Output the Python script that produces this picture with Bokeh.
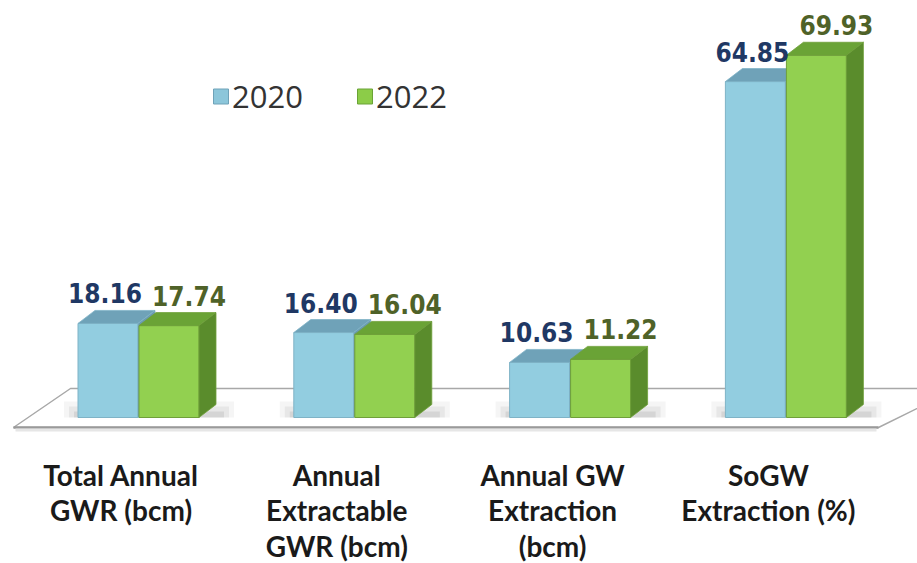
from bokeh.plotting import figure
from bokeh.models import Range1d
from bokeh.core.properties import value
from bokeh.embed import file_html
from bokeh.resources import INLINE

# ---- data ----
categories = ["Total Annual\nGWR (bcm)", "Annual\nExtractable\nGWR (bcm)",
              "Annual GW\nExtraction\n(bcm)", "SoGW\nExtraction (%)"]
series_names = ["2020", "2022"]
values_2020 = [18.16, 16.40, 10.63, 64.85]
values_2022 = [17.74, 16.04, 11.22, 69.93]
labels_2020 = ["18.16", "16.40", "10.63", "64.85"]
labels_2022 = ["17.74", "16.04", "11.22", "69.93"]

# ---- layout constants (pixels) ----
W, H = 917, 563
K = 5.18            # pixels per data unit
BASE_PX = 146       # distance of y=0 from bottom of canvas
DX = 17             # depth offset x (px == x data units)
DY = 13 / K         # depth offset y in data units
BAR_W = 60
C0, STEP = 137.5, 215.8

def py(pix_from_top):
    return (H - pix_from_top - BASE_PX) / K

y_start = -BASE_PX / K
y_end = (H - BASE_PX) / K

p = figure(width=W, height=H, x_range=Range1d(0, W), y_range=Range1d(y_start, y_end),
           output_backend="svg", toolbar_location=None, min_border=0)
p.axis.visible = False
p.grid.visible = False
p.outline_line_color = None
p.background_fill_color = "white"
p.border_fill_color = "white"

centers = [C0 + STEP * i for i in range(len(categories))]

# ---- floor ----
fl_front, fl_back = py(427), py(388)
p.patch([13, 878, 917 + 40, 70], [fl_front, fl_front, fl_back, fl_back],
        fill_color="white", line_color="#a8a8a8", line_width=1.5)
p.line([13, 878], [fl_front, fl_front], line_color="#9a9a9a", line_width=2.5)
p.line([15, 876], [fl_front - 2.5 / K, fl_front - 2.5 / K], line_color="#e6e6e6", line_width=3)

# ---- soft shadows on the floor ----
for c in centers:
    x0, x1 = c - BAR_W, c + 1 + BAR_W + DX
    for grow, a in [(14, 0.05), (9, 0.07), (4, 0.10)]:
        p.patch([x0 - grow, x1 + grow + 4, x1 + grow + 4, x0 - grow],
                [0, 0, (grow + 2) / K, (grow + 2) / K],
                fill_color="#3a3a3a", fill_alpha=a, line_color=None)

# ---- bars (3D) ----
def draw_bar(x0, x1, h, front, top, side, edge):
    p.quad(left=[x0], right=[x1], bottom=[0], top=[h], fill_color=front,
           line_color=edge, line_width=1)
    p.patch([x0, x1, x1 + DX, x0 + DX], [h, h, h + DY, h + DY],
            fill_color=top, line_color=edge, line_width=0.8)
    p.patch([x1, x1 + DX, x1 + DX, x1], [0, DY, h + DY, h],
            fill_color=side, line_color=edge, line_width=0.8)

for c, v0, v1 in zip(centers, values_2020, values_2022):
    draw_bar(c - BAR_W, c, v0, "#92cde0", "#6fa2b8", "#6a9bb0", "#7fb3c6")
    draw_bar(c + 1, c + 1 + BAR_W, v1, "#92d050", "#6aa336", "#5a8c2c", "#6f9f3a")

# ---- value labels ----
p.text(x=[c - BAR_W / 2 - 3 for c in centers], y=[v + DY for v in values_2020], text=labels_2020,
       text_align="center", text_baseline="bottom", y_offset=-7,
       text_font=value("DejaVu Sans Condensed"), text_font_style="bold",
       text_font_size="26px", text_color="#1f3864")
p.text(x=[c + 14 for c in centers], y=[v + DY for v in values_2022], text=labels_2022,
       text_align="left", text_baseline="bottom", y_offset=-7,
       text_font=value("DejaVu Sans Condensed"), text_font_style="bold",
       text_font_size="26px", text_color="#4f6228")

# ---- category labels ----
p.text(x=[c - 17 for c in centers], y=[py(457)] * len(centers), text=categories,
       text_align="center", text_baseline="top", text_line_height=1.05,
       text_font=value("Lato"), text_font_style="bold", text_font_size="28px",
       text_color="#1a1a1a")

# ---- legend ----
leg_x = [220.5, 364.5]
leg_colors = ["#8cc6da", "#8ccc48"]
leg_edges = ["#6fa2b8", "#6aa336"]
p.rect(x=leg_x, y=[py(96)] * 2, width=15, height=15 / K, fill_color=leg_colors,
       line_color=leg_edges, line_width=1)
p.text(x=[x + 11 for x in leg_x], y=[py(96)] * 2, text=series_names,
       text_align="left", text_baseline="middle",
       text_font=value("Open Sans"), text_font_size="31px", text_color="#333333")

open("out.html", "w").write(file_html(p, INLINE))
